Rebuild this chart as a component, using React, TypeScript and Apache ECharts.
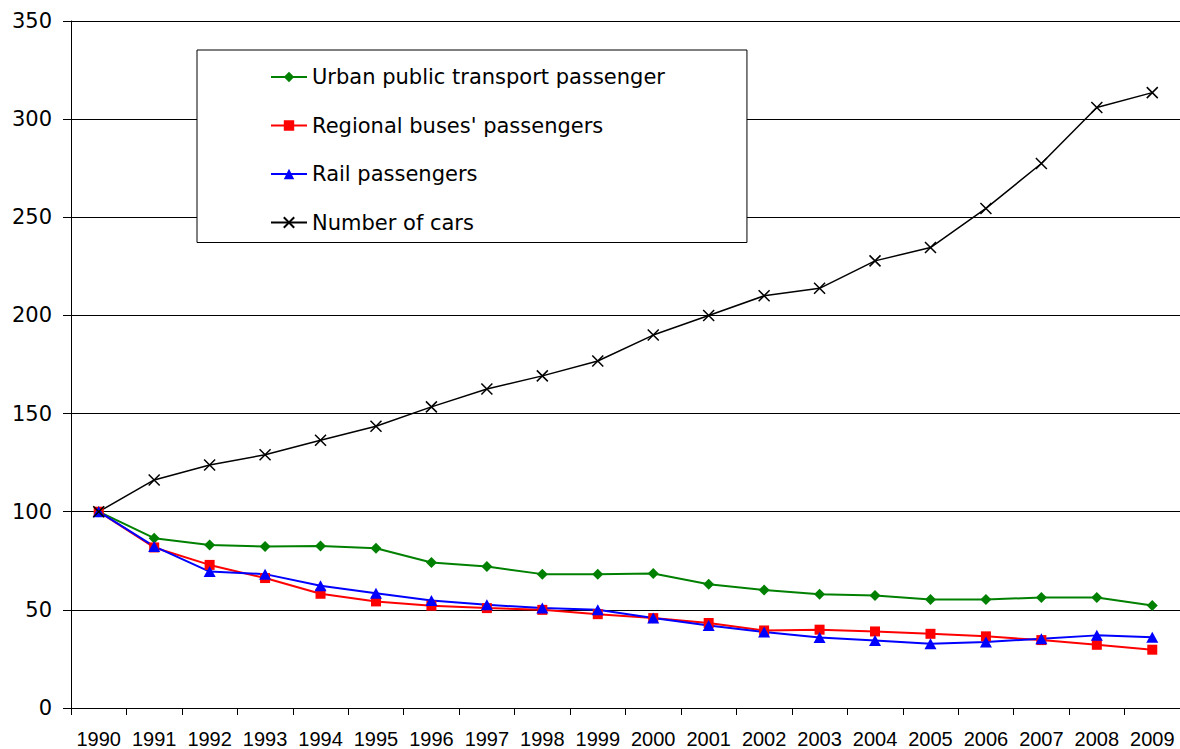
import React, { useEffect, useRef } from "react";
import * as echarts from "echarts";

const years = ["1990","1991","1992","1993","1994","1995","1996","1997","1998","1999","2000","2001","2002","2003","2004","2005","2006","2007","2008","2009"];
const urban = [100, 86.5, 83.1, 82.3, 82.5, 81.4, 74.1, 72.1, 68.2, 68.2, 68.5, 63.1, 60.1, 58.0, 57.3, 55.3, 55.3, 56.3, 56.3, 52.2];
const regional = [100, 81.8, 72.9, 66.2, 58.2, 54.3, 52.1, 50.9, 50.0, 47.8, 45.8, 43.3, 39.5, 39.9, 39.0, 37.8, 36.5, 34.6, 32.2, 29.7];
const rail = [100, 82.3, 69.5, 68.2, 62.3, 58.5, 54.8, 52.6, 50.9, 50.0, 45.8, 42.0, 38.7, 35.9, 34.4, 32.7, 33.6, 35.3, 37.0, 36.1];
const cars = [100, 116.2, 123.8, 129.0, 136.4, 143.5, 153.4, 162.5, 169.2, 176.8, 190.0, 200.0, 210.0, 213.8, 227.8, 234.6, 254.5, 277.4, 305.9, 313.5];
const yTicks = { min: 0, max: 350, interval: 50 };

export default function App() {
  const ref = useRef<HTMLDivElement>(null);
  useEffect(() => {
    const chart = echarts.init(ref.current!, null, { renderer: "svg" });
    const mk = (name: string, data: number[], color: string, symbol: string, size: any, width: number, extra: any = {}) => ({
      name,
      type: "line",
      data,
      symbol,
      symbolSize: size,
      showSymbol: true,
      showAllSymbol: true,
      lineStyle: { color, width },
      itemStyle: { color, ...extra },
      emphasis: { disabled: true },
    });
    chart.setOption({
      animation: false,
      backgroundColor: "#fff",
      grid: { left: 71, right: 0, top: 21, bottom: 41, containLabel: false },
      legend: {
        orient: "vertical",
        left: 197,
        top: 50,
        padding: [16, 82, 9, 73],
        itemWidth: 36,
        itemHeight: 13,
        itemGap: 26.5,
        backgroundColor: "#fff",
        borderColor: "#000",
        borderWidth: 1,
        borderRadius: 0,
        textStyle: { fontFamily: "DejaVu Sans", fontSize: 21, lineHeight: 22, color: "#000" },
        data: ["Urban public transport passenger", "Regional buses' passengers", "Rail passengers", "Number of cars"],
      },
      xAxis: {
        type: "category",
        data: years,
        boundaryGap: true,
        axisLine: { lineStyle: { color: "#000", width: 1 } },
        axisTick: { show: true, length: 7, alignWithLabel: false, lineStyle: { color: "#000" } },
        axisLabel: { fontFamily: "Liberation Sans", fontSize: 20, color: "#000", margin: 21, interval: 0 },
        splitLine: { show: false },
      },
      yAxis: {
        type: "value",
        min: yTicks.min,
        max: yTicks.max,
        interval: yTicks.interval,
        axisLine: { show: true, lineStyle: { color: "#000", width: 1 } },
        axisTick: { show: true, length: 8, lineStyle: { color: "#000" } },
        axisLabel: { fontFamily: "DejaVu Sans", fontSize: 21, color: "#000", margin: 19 },
        splitLine: { show: true, lineStyle: { color: "#000", width: 1 } },
      },
      series: [
        mk("Urban public transport passenger", urban, "#008000", "diamond", 11, 2),
        mk("Regional buses' passengers", regional, "#FF0000", "rect", 10, 2),
        mk("Rail passengers", rail, "#0000FF", "triangle", [12, 11], 2),
        mk("Number of cars", cars, "#000000", "path://M0,0L10,10M10,0L0,10", 11, 1.5, { borderColor: "#000", borderWidth: 1.5 }),
      ],
    });
    return () => chart.dispose();
  }, []);
  return <div ref={ref} style={{ width: 1180, height: 749, position: "absolute", left: 0, top: 0 }} />;
}
